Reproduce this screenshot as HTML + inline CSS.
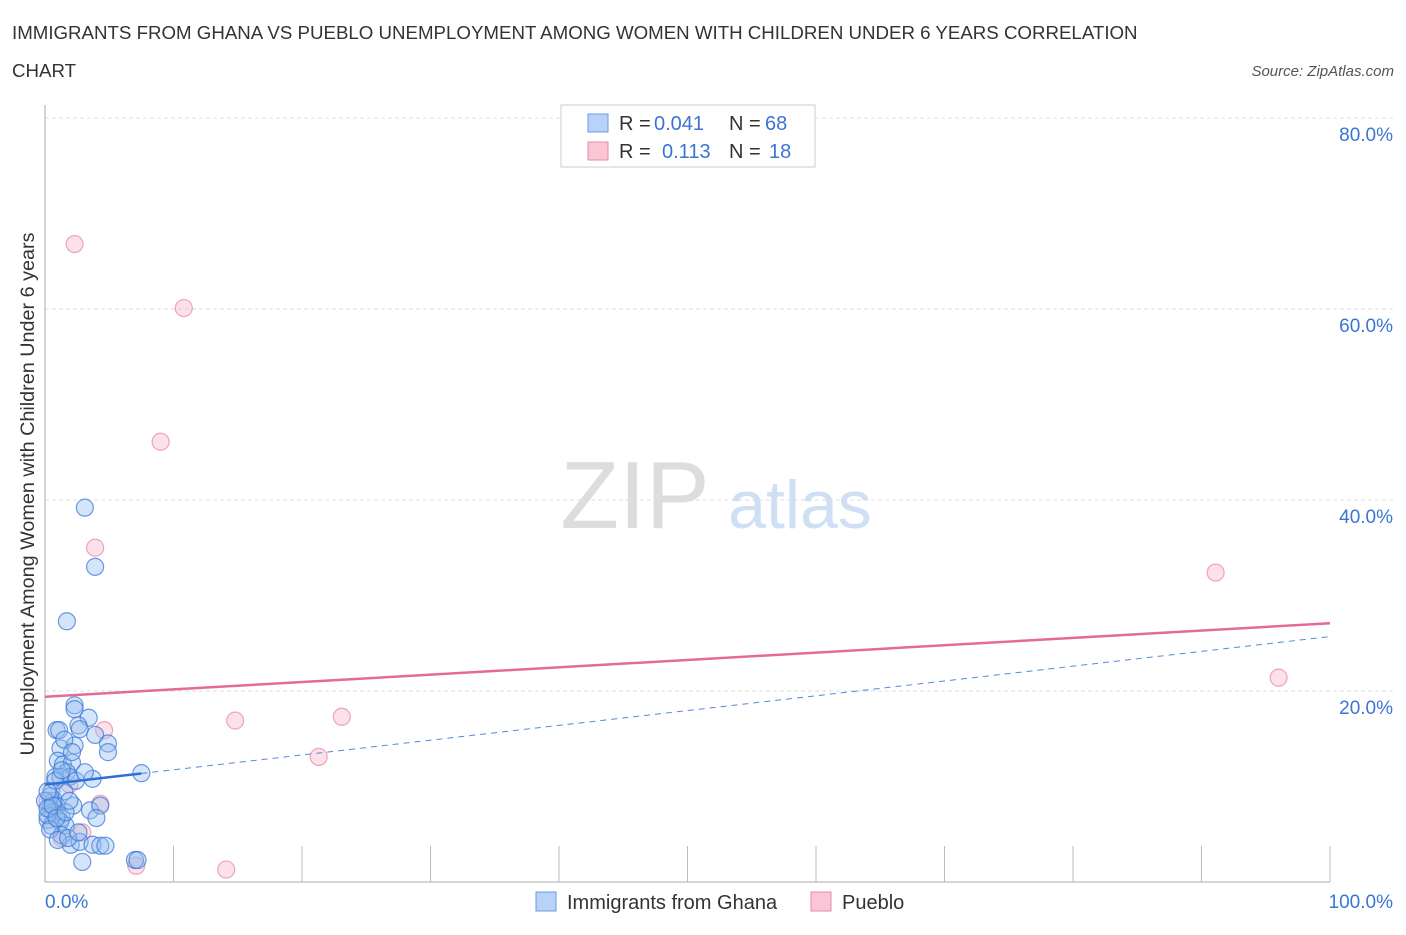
<!DOCTYPE html>
<html><head><meta charset="utf-8"><style>
body{margin:0;background:#fff;font-family:"Liberation Sans",sans-serif}
svg text{font-family:"Liberation Sans",sans-serif}
</style></head><body>
<svg id="c" width="1406" height="930">
<text x="12" y="39" font-size="18.7" fill="#333">IMMIGRANTS FROM GHANA VS PUEBLO UNEMPLOYMENT AMONG WOMEN WITH CHILDREN UNDER 6 YEARS CORRELATION</text>
<text x="12" y="77" font-size="18.7" fill="#333">CHART</text>
<text x="1394" y="76" font-size="15" fill="#555" font-style="italic" text-anchor="end">Source: ZipAtlas.com</text>
<text x="34" y="494" font-size="19.8" fill="#333" text-anchor="middle" transform="rotate(-90 34 494)">Unemployment Among Women with Children Under 6 years</text>
<text x="635" y="528" font-size="96" fill="#ddd" font-family="Liberation Serif" text-anchor="middle">ZIP</text>
<text x="800" y="528" font-size="68" fill="#cfe0f5" text-anchor="middle">atlas</text>
<g id="grid"></g><g id="pts"></g><g id="lines"></g>
<g>
<rect x="561" y="105" width="254" height="62" fill="#fff" stroke="#ccc"/>
<rect x="588" y="114" width="20" height="18" fill="#b9d3f7" stroke="#6a9be0"/>
<rect x="588" y="142" width="20" height="18" fill="#f9c6d5" stroke="#e98aa8"/>
<text y="130" font-size="20" fill="#333"><tspan x="619">R =</tspan><tspan x="654" fill="#3a75d6">0.041</tspan><tspan x="729">N =</tspan><tspan x="765" fill="#3a75d6">68</tspan></text>
<text y="158" font-size="20" fill="#333"><tspan x="619">R =</tspan><tspan x="662" fill="#3a75d6">0.113</tspan><tspan x="729">N =</tspan><tspan x="769" fill="#3a75d6">18</tspan></text>
</g>
<g>
<rect x="536" y="892" width="20" height="19" fill="#b9d3f7" stroke="#6a9be0"/>
<text x="567" y="909" font-size="20" fill="#333">Immigrants from Ghana</text>
<rect x="811" y="892" width="20" height="19" fill="#f9c6d5" stroke="#e98aa8"/>
<text x="842" y="909" font-size="20" fill="#333">Pueblo</text>
</g>
</svg>
<script>
const yTicks=[20,40,60,80];
const yTickLabels=["20.0%","40.0%","60.0%","80.0%"];
const xTickLabels=["0.0%","100.0%"];
const ghanaX=[3.1,3.9,1.7,2.3,2.3,3.4,0.9,1.1,2.6,3.9,4.9,4.9,1.2,2.3,1.0,1.4,2.1,1.7,1.9,3.7,7.5,0.8,1.2,0.5,0.7,1.5,0.9,0.4,0.6,1.0,1.3,2.2,3.5,4.3,4.0,0.2,0.5,1.2,1.6,1.3,2.0,2.7,3.7,4.3,4.7,2.9,7.0,7.2,0.4,0.2,0.4,1.0,1.8,2.6,0.0,0.2,0.6,0.9,1.6,1.9,2.4,3.1,1.5,2.1,2.7,0.8,1.3,0.2];
const ghanaY=[39.2,33.0,27.3,18.5,18.1,17.2,15.9,15.9,16.4,15.4,14.5,13.6,14.0,14.3,12.7,12.3,12.5,11.5,11.0,10.8,11.4,11.0,11.0,9.5,8.5,9.5,8.0,7.7,7.3,7.0,6.7,8.0,7.5,8.0,6.7,6.5,5.9,6.3,5.9,4.9,3.9,4.2,3.9,3.8,3.8,2.1,2.3,2.3,9.0,7.0,5.5,4.4,4.6,5.2,8.5,7.7,8.0,6.7,7.3,8.5,10.6,11.5,14.9,13.6,16.0,10.6,11.7,9.5];
const puebloX=[2.3,10.8,9.0,3.9,91.1,96.0,14.8,23.1,21.3,4.6,4.3,1.9,2.9,1.3,7.1,14.1,0.2,0.8];
const puebloY=[66.8,60.1,46.1,35.0,32.4,21.4,16.9,17.3,13.1,15.9,8.2,10.2,5.2,4.6,1.7,1.3,8.5,7.5];
const ghanaTrend=[10.2,25.7];
const puebloTrend=[19.4,27.1];
const NS="http://www.w3.org/2000/svg";
const X0=45,X1=1330,Y0=882,PY=9.55;
const sx=v=>X0+(X1-X0)*v/100, sy=v=>Y0-v*PY;
function mk(tag,attrs,parent){const e=document.createElementNS(NS,tag);for(const k in attrs)e.setAttribute(k,attrs[k]);parent.appendChild(e);return e;}
const grid=document.getElementById('grid');
yTicks.forEach((t,i)=>{
  const l=mk('line',{x1:X0,x2:1395,y1:sy(t),y2:sy(t),stroke:'#ddd','stroke-dasharray':'4,3'},grid);
  
  
  const tx=mk('text',{x:1393,y:sy(t)+23,'font-size':19,fill:'#3a75d6','text-anchor':'end'},grid);
  tx.textContent=yTickLabels[i];
  
  
});
const ax=mk('line',{x1:X0,x2:X0,y1:105,y2:Y0,stroke:'#aaa'},grid);


const bx=mk('line',{x1:X0,x2:X1,y1:Y0,y2:Y0,stroke:'#aaa'},grid);


for(let i=1;i<=10;i++){
  const tk=mk('line',{x1:sx(i*10),x2:sx(i*10),y1:Y0,y2:Y0-36,stroke:'#bbb'},grid);
  
  
}
[[0,'start',45],[100,'end',1393]].forEach((d,i)=>{
  const tx=mk('text',{x:d[2],y:908,'font-size':19,fill:'#3a75d6','text-anchor':d[1]},grid);
  tx.textContent=xTickLabels[i];
  
  
});
const pts=document.getElementById('pts');
puebloX.forEach((x,i)=>{
  const c=mk('circle',{cx:sx(x),cy:sy(puebloY[i]),r:8.5,fill:'rgba(246,170,195,0.35)',stroke:'rgba(232,130,165,0.7)','stroke-width':1.2},pts);
  
  
});
ghanaX.forEach((x,i)=>{
  const c=mk('circle',{cx:sx(x),cy:sy(ghanaY[i]),r:8.5,fill:'rgba(150,190,240,0.4)',stroke:'rgba(60,120,215,0.75)','stroke-width':1.2},pts);
  
  
});
const lines=document.getElementById('lines');
const pl=mk('line',{x1:sx(0),y1:sy(puebloTrend[0]),x2:sx(100),y2:sy(puebloTrend[1]),stroke:'#e36b95','stroke-width':2.5},lines);


const gAt=v=>ghanaTrend[0]+(ghanaTrend[1]-ghanaTrend[0])*v/100;
const gs=mk('line',{x1:sx(0),y1:sy(gAt(0)),x2:sx(7.5),y2:sy(gAt(7.5)),stroke:'#2d6fd6','stroke-width':2.5},lines);


const gd=mk('line',{x1:sx(7.5),y1:sy(gAt(7.5)),x2:sx(100),y2:sy(gAt(100)),stroke:'#5588dd','stroke-width':1,'stroke-dasharray':'6,5'},lines);


</script>
</body></html>
